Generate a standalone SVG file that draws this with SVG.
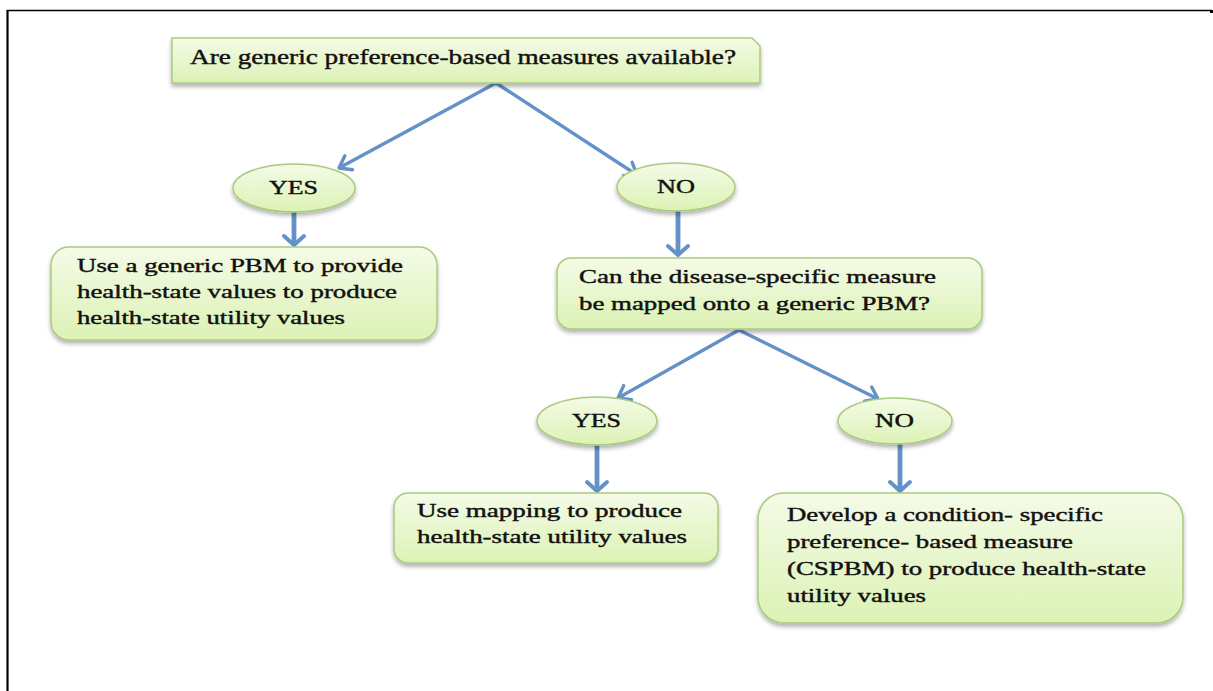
<svg xmlns="http://www.w3.org/2000/svg" width="1213" height="691" viewBox="0 0 1213 691">
<defs>
<style>
.box{fill:url(#g);stroke:#a9cb7c;stroke-width:1.5;filter:url(#sh)}
.t{font-family:"Liberation Serif","Times New Roman",serif;font-size:18px;fill:#111;stroke:#111;stroke-width:0.4}
.tt{font-size:20px}
.lab{font-size:18.5px}
.ar{fill:none;stroke:#6392c8;stroke-width:3.4}
.vr{fill:none;stroke:#6392c8;stroke-width:4.8}
</style>
<linearGradient id="g" x1="0" y1="0" x2="0" y2="1">
<stop offset="0" stop-color="#f4fbe7"/>
<stop offset="1" stop-color="#dcf2b5"/>
</linearGradient>
<filter id="sh" x="-10%" y="-20%" width="120%" height="150%">
<feDropShadow dx="0" dy="3" stdDeviation="2" flood-color="#000" flood-opacity="0.3"/>
</filter>
<marker id="m" markerUnits="userSpaceOnUse" markerWidth="30" markerHeight="30" refX="0" refY="0" orient="auto" viewBox="-15 -15 30 30" overflow="visible">
<path d="M-11,-8 L0,0 L-11,8" fill="none" stroke="#6392c8" stroke-width="3.4" stroke-linecap="round" stroke-linejoin="round"/>
</marker>
<marker id="mv" markerUnits="userSpaceOnUse" markerWidth="30" markerHeight="30" refX="0" refY="0" orient="auto" viewBox="-15 -15 30 30" overflow="visible">
<path d="M-9,-10 L0,0 L-9,10" fill="none" stroke="#6392c8" stroke-width="4" stroke-linecap="round" stroke-linejoin="round"/>
</marker>
</defs>
<rect width="1213" height="691" fill="#fff"/>
<g id="frame">
<line x1="7" y1="10.5" x2="1212" y2="10.5" stroke="#000" stroke-width="1.5"/>
<line x1="7.5" y1="10" x2="7.5" y2="691" stroke="#000" stroke-width="2.2"/>
<rect x="1210" y="10" width="3" height="3" fill="#000"/>
</g>
<g id="connectors">
<line class="ar" x1="496" y1="83" x2="339" y2="168" marker-end="url(#m)"/>
<line class="ar" x1="496" y1="83" x2="637" y2="175" marker-end="url(#m)"/>
<line class="ar" x1="739" y1="330" x2="618" y2="398" marker-end="url(#m)"/>
<line class="ar" x1="739" y1="330" x2="878" y2="399" marker-end="url(#m)"/>
<line class="vr" x1="294" y1="212" x2="294" y2="245" marker-end="url(#mv)"/>
<line class="vr" x1="678" y1="211" x2="678" y2="255" marker-end="url(#mv)"/>
<line class="vr" x1="597" y1="445" x2="597" y2="491" marker-end="url(#mv)"/>
<line class="vr" x1="900" y1="444" x2="900" y2="491" marker-end="url(#mv)"/>
</g>
<g id="q1">
<path class="box" d="M172,38 H752 L760,46 V83 H172 Z"/>
<text class="t tt" x="190" y="64" textLength="546" lengthAdjust="spacingAndGlyphs">Are generic preference-based measures available?</text>
</g>
<g id="yes1">
<ellipse class="box" cx="294" cy="188" rx="61" ry="24"/>
<text class="t lab" x="269" y="194" textLength="49" lengthAdjust="spacingAndGlyphs">YES</text>
</g>
<g id="no1">
<ellipse class="box" cx="676" cy="187" rx="59" ry="24"/>
<text class="t lab" x="657" y="193" textLength="38" lengthAdjust="spacingAndGlyphs">NO</text>
</g>
<g id="genericPBM">
<rect class="box" x="51" y="247" width="386" height="93" rx="18"/>
<text class="t" x="77" y="272" textLength="326" lengthAdjust="spacingAndGlyphs">Use a generic PBM to provide</text>
<text class="t" x="77" y="298" textLength="320" lengthAdjust="spacingAndGlyphs">health-state values to produce</text>
<text class="t" x="77" y="324" textLength="268" lengthAdjust="spacingAndGlyphs">health-state utility values</text>
</g>
<g id="q2">
<rect class="box" x="557" y="258" width="425" height="71" rx="14"/>
<text class="t" x="579" y="283" textLength="357" lengthAdjust="spacingAndGlyphs">Can the disease-specific measure</text>
<text class="t" x="579" y="310" textLength="351" lengthAdjust="spacingAndGlyphs">be mapped onto a generic PBM?</text>
</g>
<g id="yes2">
<ellipse class="box" cx="597" cy="421" rx="60" ry="24"/>
<text class="t lab" x="572" y="427" textLength="49" lengthAdjust="spacingAndGlyphs">YES</text>
</g>
<g id="no2">
<ellipse class="box" cx="895" cy="421" rx="57" ry="23"/>
<text class="t lab" x="875" y="427" textLength="39" lengthAdjust="spacingAndGlyphs">NO</text>
</g>
<g id="mapping">
<rect class="box" x="394" y="493" width="324" height="70" rx="14"/>
<text class="t" x="417" y="517" textLength="265" lengthAdjust="spacingAndGlyphs">Use mapping to produce</text>
<text class="t" x="417" y="543" textLength="270" lengthAdjust="spacingAndGlyphs">health-state utility values</text>
</g>
<g id="cspbm">
<rect class="box" x="758" y="493" width="425" height="130" rx="26"/>
<text class="t" x="787" y="521" textLength="316" lengthAdjust="spacingAndGlyphs">Develop a condition- specific</text>
<text class="t" x="787" y="548" textLength="286" lengthAdjust="spacingAndGlyphs">preference- based measure</text>
<text class="t" x="787" y="575" textLength="359" lengthAdjust="spacingAndGlyphs">(CSPBM) to produce health-state</text>
<text class="t" x="787" y="602" textLength="139" lengthAdjust="spacingAndGlyphs">utility values</text>
</g>
</svg>
